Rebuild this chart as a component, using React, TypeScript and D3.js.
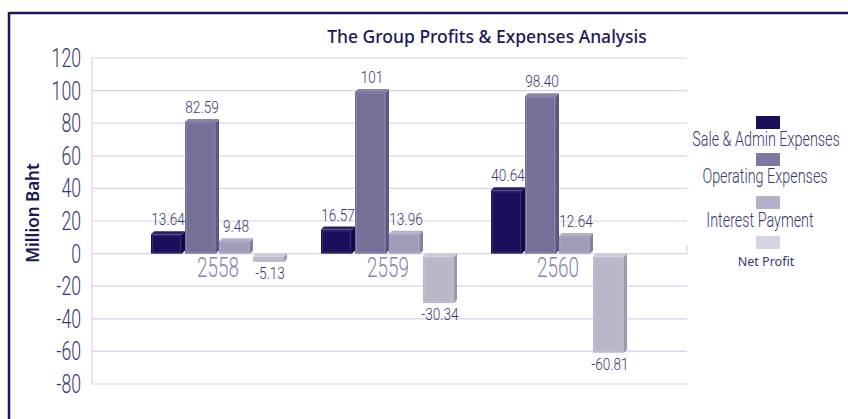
import React from 'react';
import * as d3 from 'd3';

const years = ['2558', '2559', '2560'];
const seriesNames = ['Sale & Admin Expenses', 'Operating Expenses', 'Interest Payment', 'Net Profit'];
const saleAdmin = [13.64, 16.57, 40.64];
const operating = [82.59, 101, 98.4];
const interest = [9.48, 13.96, 12.64];
const netProfit = [-5.13, -30.34, -60.81];
const valueLabels = [
  ['13.64', '16.57', '40.64'],
  ['82.59', '101', '98.40'],
  ['9.48', '13.96', '12.64'],
  ['-5.13', '-30.34', '-60.81'],
];
const yTicks = [120, 100, 80, 60, 40, 20, 0, -20, -40, -60, -80];

const seriesValues = [saleAdmin, operating, interest, netProfit];
const front = ['#1b0f5c', '#747098', '#9f9cb8', '#b9b8c9'];
const side = ['#110842', '#5c5883', '#84819f', '#9b99ae'];
const top = ['#2a1f6e', '#8985ab', '#b3b0c9', '#cac9d7'];
const legendColors = ['#1b0f5c', '#7d79a6', '#b3b0cc', '#d6d4e3'];

const NARROW = "Roboto, 'Liberation Sans', sans-serif";
const ROUND = "'Noto Sans', 'DejaVu Sans', sans-serif";

function Narrow({ x, y, sx, size, fill, anchor, children }: any) {
  return (
    <g transform={`translate(${x},${y}) scale(${sx},1)`}>
      <text fontFamily={NARROW} fontWeight={300} fontSize={size} fill={fill} textAnchor={anchor}>
        {children}
      </text>
    </g>
  );
}

export default function App() {
  const W = 848;
  const H = 419;
  const left = 92;
  const right = 687;

  const y = d3.scaleLinear().domain([-80, 120]).range([384, 58]);
  const x0 = d3.scaleBand().domain(years).range([134, 644]).paddingInner(0.2).paddingOuter(0.1);
  const x1 = d3.scaleBand().domain(seriesNames).range([0, x0.bandwidth()]);
  const d = 3;

  const bars: any[] = [];
  seriesValues.forEach((vals, si) => {
    vals.forEach((v, yi) => {
      const bx = x0(years[yi])! + x1(seriesNames[si])!;
      const w = x1.bandwidth();
      const y0 = y(0);
      const yv = y(v);
      const t = Math.min(y0, yv);
      const b = Math.max(y0, yv);
      const cx = bx + w / 2;
      bars.push(
        <g key={`b${si}-${yi}`}>
          <polygon
            points={`${bx + w - d},${t + d} ${bx + w},${t} ${bx + w},${b - d} ${bx + w - d},${b}`}
            fill={side[si]}
          />
          <polygon
            points={`${bx},${t + d} ${bx + d},${t} ${bx + w},${t} ${bx + w - d},${t + d}`}
            fill={top[si]}
          />
          <rect x={bx} y={t + d} width={w - d} height={b - t - d} fill={front[si]} />
          <rect
            x={bx + 1.5}
            y={t + d + 1.5}
            width={w - d - 3}
            height={Math.max(0, b - t - d - 3)}
            fill="none"
            stroke="#ffffff"
            strokeOpacity={0.12}
          />
          {v >= 0 ? (
            <Narrow x={cx} y={yv - 6} sx={0.8} size={17} fill="#3b3672" anchor="middle">
              {valueLabels[si][yi]}
            </Narrow>
          ) : (
            <Narrow x={cx} y={yv + 17} sx={0.8} size={17} fill="#3b3672" anchor="middle">
              {valueLabels[si][yi]}
            </Narrow>
          )}
        </g>
      );
    });
  });

  const legendY = [116, 153, 196, 236];
  const legendTextY = [146, 183, 227, 266];
  const legendTextX = [766, 765, 760, 766];

  return (
    <svg width={W} height={H} style={{ position: 'absolute', left: 0, top: 0, background: '#fff' }}>
      {/* frame */}
      <line x1={9} y1={13} x2={W} y2={13} stroke="#1e1757" strokeWidth={2.5} />
      <line x1={9} y1={12} x2={9} y2={H} stroke="#1e1757" strokeWidth={2.5} />

      {/* title */}
      <text x={487} y={43} textAnchor="middle" fontFamily={ROUND} fontWeight={500} fontSize={17.5} fill="#1e1757">
        The Group Profits &amp; Expenses Analysis
      </text>

      {/* gridlines */}
      {yTicks.map((t) => (
        <line key={t} x1={left} x2={right} y1={y(t)} y2={y(t)} stroke="#d6d4ea" strokeWidth={1.2} />
      ))}
      <line x1={left} x2={left} y1={y(120)} y2={y(-80)} stroke="#d6d4ea" strokeWidth={1.2} />
      <line x1={right} x2={right} y1={y(0) - 8} y2={y(0)} stroke="#d6d4ea" strokeWidth={1.2} />

      {/* y tick labels */}
      {yTicks.map((t) => (
        <Narrow key={t} x={81} y={y(t) + 9} sx={0.68} size={26} fill="#3b3672" anchor="end">
          {t}
        </Narrow>
      ))}

      {/* y axis title */}
      <text
        transform={`translate(39,${213}) rotate(-90)`}
        textAnchor="middle"
        fontFamily={ROUND}
        fontWeight={600}
        fontSize={17}
        fill="#1e1757"
      >
        Million Baht
      </text>

      {bars}

      {/* category labels */}
      {years.map((yr) => (
        <Narrow key={yr} x={x0(yr)! + x0.bandwidth() / 2 - 1} y={277} sx={0.7} size={27} fill="#8783a8" anchor="middle">
          {yr}
        </Narrow>
      ))}

      {/* legend */}
      {seriesNames.map((s, i) => (
        <g key={s}>
          <rect x={756} y={legendY[i]} width={24} height={13} fill={legendColors[i]} />
          {i < 3 ? (
            <Narrow x={legendTextX[i]} y={legendTextY[i]} sx={0.72} size={20} fill="#3b3672" anchor="middle">
              {s}
            </Narrow>
          ) : (
            <text x={legendTextX[i]} y={legendTextY[i]} textAnchor="middle" fontFamily={ROUND} fontSize={12.5} fill="#3b3672">
              {s}
            </text>
          )}
        </g>
      ))}
    </svg>
  );
}
